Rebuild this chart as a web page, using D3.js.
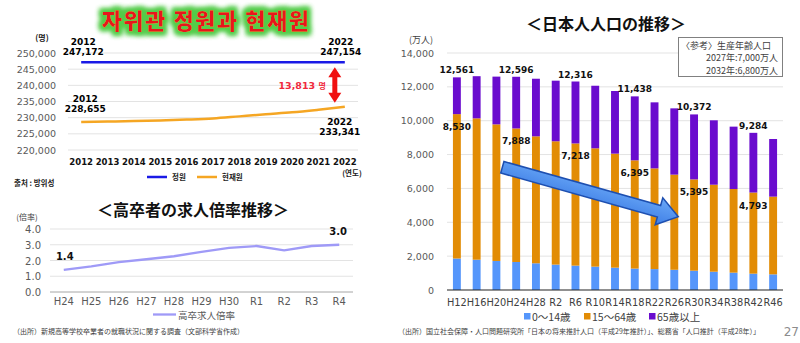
<!DOCTYPE html>
<html><head><meta charset="utf-8">
<script src="https://cdn.jsdelivr.net/npm/d3@7"></script>
<style>
html,body{margin:0;padding:0;background:#fff;}
svg{display:block;}
text{font-family:"DejaVu Sans",sans-serif;}
.jp{font-family:"Noto Sans CJK JP",sans-serif;}
.kr{font-family:"Noto Sans CJK KR",sans-serif;}
</style></head><body>
<svg id="c" width="800" height="343"></svg>
<script>
// ---------- data: top-left (자위관 정원과 현재원) ----------
const years = ["2012","2013","2014","2015","2016","2017","2018","2019","2020","2021","2022"];
const quota = [247172,247172,247172,247160,247154,247154,247154,247154,247154,247154,247154];
const current = [228655,228800,228950,229150,229400,229750,230400,231050,231650,232450,233341];
const krTicks = [220000,225000,230000,235000,240000,245000,250000];

// ---------- data: bottom-left (高卒者の求人倍率推移) ----------
const eras = ["H24","H25","H26","H27","H28","H29","H30","R1","R2","R3","R4"];
const ratio = [1.4,1.62,1.9,2.08,2.27,2.55,2.8,2.92,2.65,2.92,3.0];
const ratioTicks = [0,1,2,3,4];

// ---------- data: right (日本人人口の推移) ----------
const popCats = ["H12","H16","H20","H24","H28","R2","R6","R10","R14","R18","R22","R26","R30","R34","R38","R42","R46"];
const young   = [1860,1790,1715,1655,1578,1500,1440,1380,1320,1265,1235,1195,1140,1080,1025,965,925];
const working = [8530,8350,8070,7888,7500,7285,7218,6990,6735,6395,5950,5620,5395,5140,4940,4793,4590];
const elderly = [2171,2490,2820,3053,3402,3580,3658,3696,3700,3778,3900,3915,3837,3804,3685,3526,3405];
const popTicks = [0,2000,4000,6000,8000,10000,12000,14000];
const popLabelIdx = [0,3,6,9,12,15];
const popSeries = ["0〜14歳","15〜64歳","65歳以上"];

const svg = d3.select("#c");
const defs = svg.append("defs");
const glow = defs.append("filter").attr("id","glow").attr("x","-20%").attr("y","-60%").attr("width","140%").attr("height","220%");
glow.append("feMorphology").attr("in","SourceAlpha").attr("operator","dilate").attr("radius",2.5).attr("result","d");
glow.append("feGaussianBlur").attr("in","d").attr("stdDeviation",2.5).attr("result","b");
glow.append("feFlood").attr("flood-color","#54cc4a");
glow.append("feComposite").attr("in2","b").attr("operator","in").attr("result","g");
const fm = glow.append("feMerge");
fm.append("feMergeNode").attr("in","g");
fm.append("feMergeNode").attr("in","g");
fm.append("feMergeNode").attr("in","SourceGraphic");
const grad = defs.append("linearGradient").attr("id","ag").attr("x1",0).attr("y1",0).attr("x2",0).attr("y2",1);
grad.append("stop").attr("offset","0%").attr("stop-color","#6aa8f7");
grad.append("stop").attr("offset","100%").attr("stop-color","#3f7fe6");

// ================= TOP-LEFT =================
{
  const x = d3.scaleBand().domain(years).range([68,358]);
  const y = d3.scaleLinear().domain([220000,250000]).range([150,53]);
  const cx = d => x(d) + x.bandwidth()/2;
  const g = svg.append("g");
  g.append("text").attr("class","kr").attr("x",206).attr("y",29).attr("text-anchor","middle")
    .attr("font-size",22).attr("font-weight",900).attr("letter-spacing",1.5).attr("fill","#e8141c")
    .attr("filter","url(#glow)").text("자위관 정원과 현재원");
  g.append("text").attr("class","kr").attr("x",42).attr("y",41).attr("text-anchor","middle")
    .attr("font-size",8).attr("font-weight",700).attr("fill","#222").text("(명)");
  g.selectAll(".gl").data(krTicks).join("line").attr("x1",68).attr("x2",358)
    .attr("y1",d=>y(d)).attr("y2",d=>y(d)).attr("stroke","#e3e3e3").attr("stroke-width",1);
  g.selectAll(".yt").data(krTicks).join("text").attr("x",56).attr("y",d=>y(d)+3.5)
    .attr("text-anchor","end").attr("font-size",9.5).attr("fill","#595959").text(d3.format(","));
  g.selectAll(".xt").data(years).join("text").attr("x",cx).attr("y",164.5)
    .attr("text-anchor","middle").attr("font-size",8.5).attr("font-weight",700).attr("fill","#111").text(d=>d);
  g.append("text").attr("class","kr").attr("x",352).attr("y",176).attr("text-anchor","middle")
    .attr("font-size",7.5).attr("font-weight",700).attr("fill","#222").text("(연도)");
  const line = d3.line().x((d,i)=>cx(years[i])).y(d=>y(d)).curve(d3.curveMonotoneX);
  g.append("path").attr("d",line(quota)).attr("fill","none").attr("stroke","#1a1ae6").attr("stroke-width",2.5);
  g.append("path").attr("d",line(current)).attr("fill","none").attr("stroke","#f5a623").attr("stroke-width",2.5);
  const lab = (xx, yy, a, b, anchor) => {
    g.append("text").attr("x",xx).attr("y",yy).attr("text-anchor",anchor).attr("font-size",9).attr("font-weight",700).attr("fill","#000").text(a);
    g.append("text").attr("x",xx).attr("y",yy+10).attr("text-anchor",anchor).attr("font-size",9).attr("font-weight",700).attr("fill","#000").text(b);
  };
  const fmt = d3.format(",");
  lab(cx(years[0])+2, y(quota[0])-17, years[0], fmt(quota[0]), "middle");
  lab(cx(years[10])-4, y(quota[10])-17, years[10], fmt(quota[10]), "middle");
  lab(cx(years[0])+4, y(current[0])-20, years[0], fmt(current[0]), "middle");
  lab(cx(years[10])-5, y(current[10])+18, years[10], fmt(current[10]), "middle");
  // red double arrow
  const ax = cx(years[10]) - 10, yTop = y(quota[10]) + 5, yBot = y(current[10]) - 4;
  g.append("line").attr("x1",ax).attr("x2",ax).attr("y1",yTop+9).attr("y2",yBot-9).attr("stroke","#f01010").attr("stroke-width",5);
  g.append("path").attr("d",`M${ax},${yTop} L${ax-6.5},${yTop+10} L${ax+6.5},${yTop+10} Z`).attr("fill","#f01010");
  g.append("path").attr("d",`M${ax},${yBot} L${ax-6.5},${yBot-10} L${ax+6.5},${yBot-10} Z`).attr("fill","#f01010");
  g.append("text").attr("x",ax-9).attr("y",(yTop+yBot)/2+4).attr("text-anchor","end")
    .attr("font-size",9.5).attr("font-weight",700).attr("fill","#f0283c")
    .text(fmt(quota[10]-current[10]) + " ").append("tspan").attr("class","kr").attr("font-size",8).text("명");
  // legend
  g.append("line").attr("x1",147).attr("x2",167).attr("y1",177).attr("y2",177).attr("stroke","#1a1ae6").attr("stroke-width",2.5);
  g.append("text").attr("class","kr").attr("x",172).attr("y",180).attr("font-size",7.5).attr("font-weight",700).attr("fill","#222").text("정원");
  g.append("line").attr("x1",197).attr("x2",217).attr("y1",177).attr("y2",177).attr("stroke","#f5a623").attr("stroke-width",2.5);
  g.append("text").attr("class","kr").attr("x",222).attr("y",180).attr("font-size",7.5).attr("font-weight",700).attr("fill","#222").text("현재원");
  g.append("text").attr("class","kr").attr("x",14).attr("y",186).attr("font-size",7.5).attr("font-weight",700).attr("fill","#222").text("출처 : 방위성");
}

// ================= BOTTOM-LEFT =================
{
  const x = d3.scaleBand().domain(eras).range([50,353]);
  const y = d3.scaleLinear().domain([0,4]).range([292,229]);
  const cx = d => x(d) + x.bandwidth()/2;
  const g = svg.append("g");
  g.append("text").attr("class","jp").attr("x",193).attr("y",216).attr("text-anchor","middle")
    .attr("font-size",16).attr("font-weight",700).attr("fill","#111").text("＜高卒者の求人倍率推移＞");
  g.append("text").attr("class","jp").attr("x",27).attr("y",220).attr("text-anchor","middle")
    .attr("font-size",8).attr("fill","#404040").text("(倍率)");
  g.selectAll(".gl").data(ratioTicks).join("line").attr("x1",50).attr("x2",353)
    .attr("y1",d=>y(d)).attr("y2",d=>y(d)).attr("stroke",d=>d===0?"#a6a6a6":"#e3e3e3").attr("stroke-width",1);
  g.selectAll(".yt").data(ratioTicks).join("text").attr("x",41).attr("y",d=>y(d)+4)
    .attr("text-anchor","end").attr("font-size",10).attr("fill","#595959").text(d3.format(".1f"));
  g.selectAll(".xt").data(eras).join("text").attr("x",cx).attr("y",305)
    .attr("text-anchor","middle").attr("font-size",10).attr("fill","#595959").text(d=>d);
  const line = d3.line().x((d,i)=>cx(eras[i])).y(d=>y(d));
  g.append("path").attr("d",line(ratio)).attr("fill","none").attr("stroke","#9f9af7").attr("stroke-width",2.3);
  g.append("text").attr("x",cx(eras[0])+1).attr("y",y(ratio[0])-10).attr("text-anchor","middle")
    .attr("font-size",10).attr("font-weight",700).attr("fill","#111").text(d3.format(".1f")(ratio[0]));
  g.append("text").attr("x",cx(eras[10])-1).attr("y",y(ratio[10])-10).attr("text-anchor","middle")
    .attr("font-size",10).attr("font-weight",700).attr("fill","#111").text(d3.format(".1f")(ratio[10]));
  g.append("line").attr("x1",153).attr("x2",176).attr("y1",314.5).attr("y2",314.5).attr("stroke","#9f9af7").attr("stroke-width",2.3);
  g.append("text").attr("class","jp").attr("x",178).attr("y",318.5).attr("font-size",9.5).attr("fill","#595959").text("高卒求人倍率");
  g.append("text").attr("class","jp").attr("x",13).attr("y",334).attr("font-size",7).attr("fill","#404040")
    .text("（出所）新規高等学校卒業者の就職状況に関する調査（文部科学省作成）");
}

// ================= RIGHT =================
{
  const x = d3.scaleBand().domain(popCats).range([447,783]).paddingInner(0.6).paddingOuter(0.3);
  const y = d3.scaleLinear().domain([0,14000]).range([290,53]);
  const colors = ["#5596fb","#e28c05","#6a0cce"];
  const g = svg.append("g");
  g.append("text").attr("class","jp").attr("x",606).attr("y",30).attr("text-anchor","middle")
    .attr("font-size",16).attr("font-weight",700).attr("fill","#111").text("＜日本人人口の推移＞");
  g.append("text").attr("class","jp").attr("x",421).attr("y",43).attr("text-anchor","middle")
    .attr("font-size",9).attr("fill","#404040").text("(万人)");
  g.selectAll(".gl").data(popTicks.filter(d=>d>0)).join("line").attr("x1",447).attr("x2",783)
    .attr("y1",d=>y(d)).attr("y2",d=>y(d)).attr("stroke","#e3e3e3").attr("stroke-width",1);
  g.selectAll(".yt").data(popTicks).join("text").attr("x",434).attr("y",d=>y(d)+3.5)
    .attr("text-anchor","end").attr("font-size",9.5).attr("fill","#595959").text(d3.format(","));
  const rows = popCats.map((c,i)=>({cat:c, a:young[i], b:working[i], c:elderly[i]}));
  const stack = d3.stack().keys(["a","b","c"])(rows);
  g.selectAll(".s").data(stack).join("g").attr("fill",(d,i)=>colors[i])
    .selectAll("rect").data(d=>d).join("rect")
    .attr("x",d=>x(d.data.cat)).attr("width",x.bandwidth())
    .attr("y",d=>y(d[1])).attr("height",d=>y(d[0])-y(d[1]));
  g.append("line").attr("x1",447).attr("x2",783).attr("y1",y(0)).attr("y2",y(0)).attr("stroke","#222").attr("stroke-width",1.2);
  g.selectAll(".xt").data(popCats).join("text").attr("x",d=>x(d)+x.bandwidth()/2).attr("y",306)
    .attr("text-anchor","middle").attr("font-size",9.8).attr("fill","#404040").text(d=>d);
  const fmt = d3.format(",");
  popLabelIdx.forEach(i=>{
    const cxp = x(popCats[i]) + x.bandwidth()/2;
    const tot = young[i]+working[i]+elderly[i];
    g.append("text").attr("x",cxp).attr("y",y(tot)-4).attr("text-anchor","middle")
      .attr("font-size",9).attr("font-weight",700).attr("fill","#111").text(fmt(tot));
    g.append("text").attr("x",cxp).attr("y",y(young[i]+working[i])+16).attr("text-anchor","middle")
      .attr("font-size",9).attr("font-weight",700).attr("fill","#111").text(fmt(working[i]));
  });
  // big blue arrow (annotation placed in data space)
  const bw = x.step();
  const p0 = [x(popCats[2]) + bw*0.5, y(7250)];
  const p1 = [x(popCats[11]) + bw*0.4, y(4330)];
  const dx = p1[0]-p0[0], dy = p1[1]-p0[1], L = Math.hypot(dx,dy), ang = Math.atan2(dy,dx)*180/Math.PI;
  const sw = 6, hw = 14, hl = 20;
  g.append("path").attr("transform",`translate(${p0[0]},${p0[1]}) rotate(${ang})`)
    .attr("d",`M0,${-sw} L${L-hl},${-sw} L${L-hl},${-hw} L${L},0 L${L-hl},${hw} L${L-hl},${sw} L0,${sw} Z`)
    .attr("fill","url(#ag)").attr("stroke","#1d4fb0").attr("stroke-width",1.5).attr("stroke-linejoin","miter");
  // note box
  g.append("rect").attr("x",678.5).attr("y",37.5).attr("width",104).attr("height",39).attr("fill","#fff").attr("stroke","#808080");
  g.append("text").attr("class","jp").attr("x",681).attr("y",48.5).attr("font-size",9).attr("fill","#404040").text("〈参考〉生産年齢人口");
  g.append("text").attr("class","jp").attr("x",778).attr("y",61).attr("text-anchor","end").attr("font-size",9).attr("fill","#404040").text("2027年:7,000万人");
  g.append("text").attr("class","jp").attr("x",778).attr("y",73.5).attr("text-anchor","end").attr("font-size",9).attr("fill","#404040").text("2032年:6,800万人");
  // legend
  const lx = [524, 584, 649];
  popSeries.forEach((s,i)=>{
    g.append("rect").attr("x",lx[i]).attr("y",313).attr("width",6.5).attr("height",6.5).attr("fill",colors[i]);
    g.append("text").attr("class","jp").attr("x",lx[i]+8).attr("y",320.5).attr("font-size",10.5).attr("fill","#404040").text(s);
  });
  g.append("text").attr("class","jp").attr("x",398).attr("y",334).attr("font-size",7).attr("fill","#404040")
    .text("（出所）国立社会保障・人口問題研究所「日本の将来推計人口（平成29年推計）」、総務省「人口推計（平成28年）」");
  g.append("text").attr("x",799).attr("y",336).attr("text-anchor","end").attr("font-size",12).attr("fill","#8c8c8c").text("27");
}
</script>
</body></html>
